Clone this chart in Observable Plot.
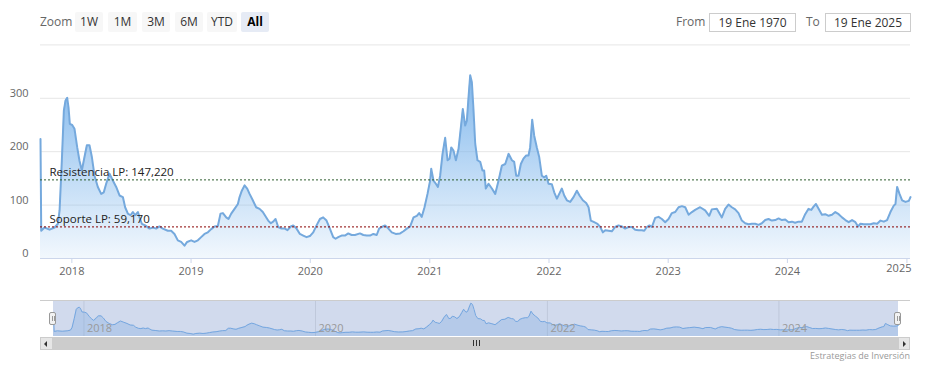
<!DOCTYPE html>
<html>
<head>
<meta charset="utf-8">
<script src="https://cdn.jsdelivr.net/npm/d3@7"></script>
<script src="https://cdn.jsdelivr.net/npm/@observablehq/plot@0.6"></script>
<style>
  body { margin: 0; background: #fff; font-family: "Open Sans", sans-serif; }
  #wrap { position: relative; width: 925px; height: 368px; overflow: hidden; background: #fff; }
  .abs { position: absolute; }
  .lbl { position: absolute; top: 12px; height: 20px; line-height: 20px; font-size: 12px; color: #666; }
  .btn { position: absolute; top: 12px; height: 20px; line-height: 20px; background: #f7f7f7; color: #333;
         font-size: 12px; text-align: center; border-radius: 2px; }
  .btn.sel { background: #e6ebf5; color: #000; font-weight: bold; }
  .inp { position: absolute; top: 13px; height: 17px; line-height: 17px; border: 1px solid #ccc; background: #fff;
         color: #333; font-size: 12px; text-align: center; box-sizing: content-box; }
  #credit { position: absolute; right: 15px; top: 349px; font-size: 9px; color: #999; }
</style>
</head>
<body>
<div id="wrap">
  <div class="lbl" style="left:40px">Zoom</div>
  <div class="btn" style="left:75px;width:28px">1W</div>
  <div class="btn" style="left:108px;width:29px">1M</div>
  <div class="btn" style="left:142px;width:28px">3M</div>
  <div class="btn" style="left:175px;width:28px">6M</div>
  <div class="btn" style="left:207px;width:30px">YTD</div>
  <div class="btn sel" style="left:241px;width:28px">All</div>
  <div class="lbl" style="left:676px">From</div>
  <div class="inp" style="left:709px;width:85px">19 Ene 1970</div>
  <div class="lbl" style="left:806px">To</div>
  <div class="inp" style="left:825px;width:84px">19 Ene 2025</div>
  <div id="main" class="abs" style="left:0;top:36px"></div>
  <div id="nav" class="abs" style="left:0;top:300px"></div>
  <div id="credit">Estrategias de Inversión</div>
</div>
<script>
// ---- data (decimal years) ----
const years = [
2017.737,2017.743,2017.771,2017.813,2017.855,2017.883,2017.897,2017.916,2017.933,2017.947,2017.961,2017.972,2017.983,
2018.003,2018.022,2018.045,2018.064,2018.084,2018.106,2018.126,2018.148,2018.168,2018.190,2018.218,2018.246,2018.268,
2018.288,2018.316,2018.344,2018.372,2018.400,2018.428,2018.447,2018.470,2018.492,2018.512,2018.531,2018.554,2018.568,
2018.587,2018.615,2018.652,2018.680,2018.707,2018.735,2018.763,2018.805,2018.833,2018.861,2018.889,2018.917,2018.945,
2018.967,2019.001,2019.029,2019.057,2019.085,2019.113,2019.141,2019.169,2019.197,2019.225,2019.247,2019.267,2019.295,
2019.314,2019.337,2019.365,2019.393,2019.407,2019.426,2019.449,2019.471,2019.491,2019.518,2019.546,2019.575,2019.602,
2019.647,2019.669,2019.689,2019.709,2019.731,2019.759,2019.787,2019.809,2019.837,2019.857,2019.885,2019.913,2019.941,
2019.969,2019.997,2020.025,2020.053,2020.081,2020.108,2020.136,2020.164,2020.192,2020.212,2020.234,2020.262,2020.290,
2020.318,2020.346,2020.374,2020.416,2020.444,2020.472,2020.500,2020.528,2020.556,2020.576,2020.598,2020.626,2020.654,
2020.682,2020.715,2020.752,2020.780,2020.808,2020.836,2020.864,2020.892,2020.911,2020.933,2020.956,2020.981,2021.003,
2021.012,2021.031,2021.051,2021.068,2021.087,2021.107,2021.129,2021.149,2021.166,2021.180,2021.199,2021.219,2021.241,
2021.261,2021.277,2021.297,2021.311,2021.325,2021.339,2021.353,2021.367,2021.381,2021.400,2021.423,2021.442,2021.456,
2021.470,2021.493,2021.521,2021.549,2021.577,2021.605,2021.633,2021.661,2021.689,2021.708,2021.725,2021.744,2021.764,
2021.786,2021.809,2021.828,2021.842,2021.859,2021.876,2021.898,2021.918,2021.940,2021.960,2021.977,2021.996,2022.024,
2022.044,2022.066,2022.086,2022.108,2022.128,2022.150,2022.178,2022.206,2022.234,2022.256,2022.284,2022.312,2022.332,
2022.351,2022.379,2022.407,2022.430,2022.452,2022.472,2022.500,2022.527,2022.555,2022.583,2022.611,2022.639,2022.667,
2022.695,2022.723,2022.751,2022.779,2022.799,2022.821,2022.843,2022.863,2022.891,2022.919,2022.947,2022.975,2023.003,
2023.031,2023.059,2023.087,2023.115,2023.143,2023.171,2023.199,2023.226,2023.268,2023.310,2023.344,2023.366,2023.408,
2023.450,2023.478,2023.506,2023.534,2023.562,2023.590,2023.618,2023.646,2023.674,2023.702,2023.730,2023.758,2023.786,
2023.814,2023.842,2023.870,2023.898,2023.926,2023.954,2023.982,2024.010,2024.038,2024.065,2024.093,2024.121,2024.149,
2024.177,2024.200,2024.219,2024.239,2024.261,2024.289,2024.317,2024.345,2024.373,2024.401,2024.429,2024.457,2024.485,
2024.513,2024.541,2024.569,2024.591,2024.611,2024.639,2024.667,2024.695,2024.723,2024.751,2024.779,2024.807,2024.834,
2024.862,2024.890,2024.904,2024.918,2024.938,2024.960,2024.988,2025.016,2025.030
];
const values = [
224,52,58,54,58,65,90,183,277,296,301,283,252,
250,243,208,183,165,190,212,212,190,155,134,121,124,
140,159,146,134,118,115,96,84,81,87,81,87,77,
65,62,56,58,56,60,56,52,52,46,34,31,24,
31,34,31,34,40,46,49,55,60,61,84,85,77,
74,84,93,102,115,127,137,131,121,109,96,93,87,
71,66,69,74,59,56,56,53,60,62,56,46,43,
40,42,49,62,74,77,71,56,40,37,40,43,43,
47,44,44,47,44,43,43,46,44,56,59,62,56,
49,46,47,51,56,60,77,80,85,78,96,121,146,
168,146,140,134,155,196,226,184,187,208,202,184,205,
246,280,249,258,302,343,330,277,215,184,181,165,165,
131,140,131,121,146,174,177,196,184,181,155,155,177,
187,193,193,208,260,230,208,190,155,152,155,140,139,
124,112,121,131,118,109,106,115,127,118,109,104,96,
71,68,65,59,49,53,52,51,59,62,60,56,59,
59,54,53,53,52,59,62,59,76,78,74,68,74,
85,87,96,98,96,82,87,91,96,90,80,92,93,
77,93,101,96,92,85,71,66,64,65,65,63,66,
72,74,71,72,75,72,73,68,69,67,69,69,83,
93,91,97,102,93,82,83,80,82,87,83,77,72,
68,72,68,60,65,64,64,64,66,65,71,69,72,
87,99,102,134,121,109,106,108,115
];
const yTicks = [0, 100, 200, 300];
const gridValues = [100, 200, 300, 400];
const xTickYears = [2018, 2019, 2020, 2021, 2022, 2023, 2024, 2025];
const navTickYears = [2018, 2020, 2022, 2024];
const levelLabels = ["Resistencia LP: 147,220", "Soporte LP: 59,170"];
const levelValues = [147.22, 59.17];

// ---- helpers ----
function toDate(y) {
  const Y = Math.floor(y);
  const s = Date.UTC(Y, 0, 1), e = Date.UTC(Y + 1, 0, 1);
  return new Date(s + (y - Y) * (e - s));
}
const data = years.map((y, i) => ({date: toDate(y), value: values[i]}));
const [d0, d1] = d3.extent(data, d => d.date);
const xTicks = xTickYears.map(y => new Date(Date.UTC(y, 0, 1)));
const xTicksInner = xTicks.slice(0, -1);
const xTickLast = xTicks.slice(-1);
const navTicks = navTickYears.map(y => new Date(Date.UTC(y, 0, 1)));
const levels = levelValues.map((v, i) => ({value: v, label: levelLabels[i]}));
const fmtYear = d3.utcFormat("%Y");
const font = "'Open Sans', sans-serif";

const defs = () => {
  const g = d3.create("svg:defs");
  const lg = g.append("linearGradient").attr("id", "areaGrad").attr("x1", 0).attr("y1", 0).attr("x2", 0).attr("y2", 1);
  lg.append("stop").attr("offset", 0).attr("stop-color", "#7cb5ec").attr("stop-opacity", 0.95);
  lg.append("stop").attr("offset", 1).attr("stop-color", "#7cb5ec").attr("stop-opacity", 0.1);
  return g.node();
};

const main = Plot.plot({
  width: 925, height: 252,
  marginTop: 8.4, marginBottom: 30, marginLeft: 40, marginRight: 15,
  style: {fontFamily: font, fontSize: "11px", background: "transparent", overflow: "visible"},
  x: {type: "utc", domain: [d0, d1]},
  y: {domain: [0, 400]},
  marks: [
    defs,
    Plot.gridY(gridValues, {stroke: "#e6e6e6", strokeOpacity: 1}),
    Plot.areaY(data, {x: "date", y: "value", fill: "url(#areaGrad)"}),
    Plot.lineY(data, {x: "date", y: "value", stroke: "#75a9dd", strokeWidth: 2}),
    Plot.ruleY([0], {stroke: "#ccd6eb"}),
    Plot.ruleY([levels[0]], {y: "value", stroke: "#2f5e2f", strokeDasharray: "2,2"}),
    Plot.ruleY([levels[1]], {y: "value", stroke: "#8b0000", strokeDasharray: "2,2"}),
    Plot.text(levels, {y: "value", text: "label", frameAnchor: "left", textAnchor: "start",
                       dx: 9, dy: -8, fill: "#222", fontSize: 11.5}),
    Plot.axisY(yTicks, {tickSize: 0, tickPadding: 12, dy: -5, color: "#666", label: null}),
    Plot.axisX(xTicks, {tickSize: 5, tickFormat: () => "", color: "#ccd6eb", label: null}),
    Plot.axisX(xTicksInner, {tickSize: 0, tickPadding: 9, tickFormat: fmtYear, color: "#666", label: null}),
    Plot.text(xTickLast, {text: d => fmtYear(d), frameAnchor: "bottom-right", textAnchor: "end",
                          dx: 1, dy: 13, fill: "#666"})
  ]
});
document.getElementById("main").appendChild(main);

const nav = Plot.plot({
  width: 925, height: 36,
  marginTop: 0, marginBottom: 0, marginLeft: 53, marginRight: 27,
  style: {fontFamily: font, fontSize: "11px", background: "transparent", overflow: "visible"},
  x: {type: "utc", domain: [d0, d1], axis: null},
  y: {domain: [0, 370], axis: null},
  marks: [
    Plot.ruleX(navTicks, {stroke: "#e6e6e6"}),
    Plot.areaY(data, {x: "date", y: "value", fill: "#7cb5ec", fillOpacity: 0.3}),
    Plot.lineY(data, {x: "date", y: "value", stroke: "#7cb5ec", strokeWidth: 1}),
    Plot.rect([{a: d0, b: d1}], {x1: "a", x2: "b", fill: "rgb(102,133,194)", fillOpacity: 0.3}),
    Plot.text(navTicks, {x: d => d, text: d => fmtYear(d), frameAnchor: "bottom", textAnchor: "start",
                         dx: 3, dy: -5, fill: "#999"})
  ]
});
document.getElementById("nav").appendChild(nav);

// navigator chrome: outline, handles, scrollbar (positioned from the navigator scale)
const wrap = document.getElementById("wrap");
const nx = nav.scale("x");
const xa = nx.apply(d0), xb = nx.apply(d1);
function box(style) { const d = document.createElement("div"); d.className = "abs"; Object.assign(d.style, style); wrap.appendChild(d); return d; }
box({left: "40px", top: "300px", width: "870px", height: "0px", borderTop: "1px solid #cccccc"});
for (const hx of [xa, xb]) {
  const h = box({left: (hx - 4) + "px", top: "312px", width: "7px", height: "13px", background: "#f2f2f2",
                 border: "1px solid #999", borderRadius: "2px", boxSizing: "border-box"});
  for (const off of [2, 4]) {
    const l = document.createElement("div");
    Object.assign(l.style, {position: "absolute", left: off + "px", top: "3px", width: "0", height: "5px", borderLeft: "1px solid #999"});
    h.appendChild(l);
  }
}
// scrollbar
box({left: "40px", top: "337px", width: "870px", height: "13px", background: "#f2f2f2"});
box({left: xa + "px", top: "337px", width: (xb - xa) + "px", height: "13px", background: "#cccccc"});
const lb = box({left: "40px", top: "337px", width: (xa - 40) + "px", height: "13px", background: "#e6e6e6", border: "1px solid #cccccc", boxSizing: "border-box"});
const rb = box({left: xb + "px", top: "337px", width: (910 - xb) + "px", height: "13px", background: "#e6e6e6", border: "1px solid #cccccc", boxSizing: "border-box"});
function arrow(parent, dir) {
  const a = document.createElement("div");
  Object.assign(a.style, {position: "absolute", top: "3px", width: "0", height: "0",
    borderTop: "3px solid transparent", borderBottom: "3px solid transparent"});
  if (dir < 0) { a.style.left = "3px"; a.style.borderRight = "3px solid #333"; }
  else { a.style.left = "4px"; a.style.borderLeft = "3px solid #333"; }
  parent.appendChild(a);
}
arrow(lb, -1); arrow(rb, 1);
const mid = (xa + xb) / 2;
for (const off of [-3, 0, 3]) {
  box({left: (mid + off) + "px", top: "340px", width: "0", height: "6px", borderLeft: "1px solid #333"});
}
</script>
</body>
</html>
